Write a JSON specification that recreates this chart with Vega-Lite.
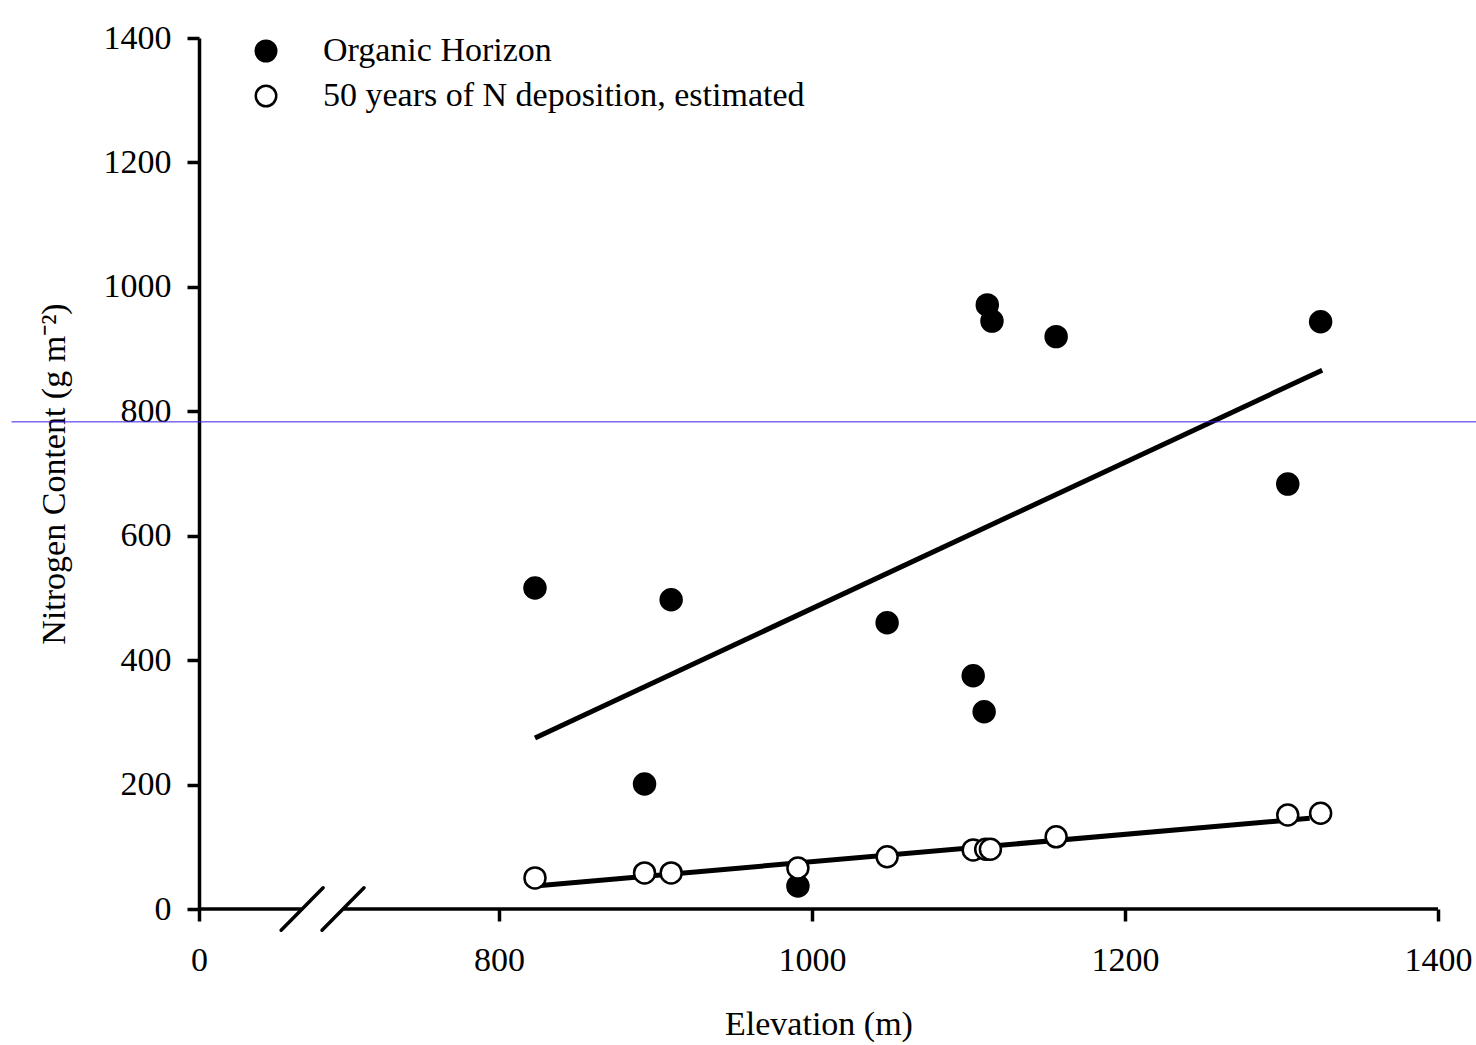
{
  "$schema": "https://vega.github.io/schema/vega-lite/v6.json",
  "width": 1239,
  "height": 871,
  "autosize": {"type": "none"},
  "padding": {"left": 199, "top": 38, "right": 38, "bottom": 136},
  "background": "white",
  "config": {
    "view": {"stroke": null},
    "font": "Liberation Serif",
    "axis": {
      "labelFont": "Liberation Serif",
      "labelFontSize": 34,
      "labelColor": "black",
      "labelFlush": false,
      "labelOverlap": false,
      "titleFont": "Liberation Serif",
      "titleFontSize": 34,
      "titleFontWeight": "normal",
      "titleColor": "black",
      "domainColor": "black",
      "domainWidth": 3.5,
      "tickColor": "black",
      "tickWidth": 3.5,
      "tickSize": 12,
      "grid": false
    }
  },
  "datasets": {
    "pts": [
      {"elev": 823, "n": 516, "series": "Organic Horizon"},
      {"elev": 893, "n": 201, "series": "Organic Horizon"},
      {"elev": 910, "n": 497, "series": "Organic Horizon"},
      {"elev": 991, "n": 37, "series": "Organic Horizon"},
      {"elev": 1048, "n": 460, "series": "Organic Horizon"},
      {"elev": 1103, "n": 375, "series": "Organic Horizon"},
      {"elev": 1110, "n": 317, "series": "Organic Horizon"},
      {"elev": 1112, "n": 971, "series": "Organic Horizon"},
      {"elev": 1115, "n": 945, "series": "Organic Horizon"},
      {"elev": 1156, "n": 920, "series": "Organic Horizon"},
      {"elev": 1304, "n": 683, "series": "Organic Horizon"},
      {"elev": 1325, "n": 944, "series": "Organic Horizon"},
      {"elev": 823, "n": 50, "series": "50 years of N deposition, estimated"},
      {"elev": 893, "n": 58, "series": "50 years of N deposition, estimated"},
      {"elev": 910, "n": 58, "series": "50 years of N deposition, estimated"},
      {"elev": 991, "n": 66, "series": "50 years of N deposition, estimated"},
      {"elev": 1048, "n": 84, "series": "50 years of N deposition, estimated"},
      {"elev": 1103, "n": 95, "series": "50 years of N deposition, estimated"},
      {"elev": 1111, "n": 96, "series": "50 years of N deposition, estimated"},
      {"elev": 1114, "n": 96, "series": "50 years of N deposition, estimated"},
      {"elev": 1156, "n": 116, "series": "50 years of N deposition, estimated"},
      {"elev": 1304, "n": 151, "series": "50 years of N deposition, estimated"},
      {"elev": 1325, "n": 154, "series": "50 years of N deposition, estimated"}
    ],
    "fits": [
      {"elev": 823, "n": 275, "series": "Organic Horizon"},
      {"elev": 1326, "n": 866, "series": "Organic Horizon"},
      {"elev": 823, "n": 37, "series": "50 years of N deposition, estimated"},
      {"elev": 1318, "n": 146, "series": "50 years of N deposition, estimated"}
    ],
    "axisline": [
      {"x1": 0, "x2": 273},
      {"x1": 384, "x2": 1400}
    ],
    "breaks": [
      {"x1": 219, "y1": -34, "x2": 331, "y2": 34},
      {"x1": 328, "y1": -34, "x2": 440, "y2": 34}
    ],
    "stray": [
      {"x1": -500, "x2": 1440, "y": 783}
    ]
  },
  "encoding": {
    "x": {
      "type": "quantitative",
      "scale": {"domain": [0, 800, 1400], "range": [0, 300, 1239], "nice": false, "zero": false}
    },
    "y": {
      "type": "quantitative",
      "scale": {"domain": [0, 1400], "nice": false}
    }
  },
  "layer": [
    {
      "data": {"name": "axisline"},
      "mark": {"type": "rule", "color": "black", "strokeWidth": 3.5},
      "encoding": {
        "x": {"field": "x1", "type": "quantitative", "axis": {
          "title": "Elevation (m)",
          "values": [0, 800, 1000, 1200, 1400],
          "domain": false,
          "labelPadding": 22,
          "titlePadding": 30,
          "format": "d"
        }},
        "x2": {"field": "x2"},
        "y": {"datum": 0, "type": "quantitative", "axis": {
          "title": "Nitrogen Content (g m⁻²)",
          "values": [0, 200, 400, 600, 800, 1000, 1200, 1400],
          "labelPadding": 16,
          "titlePadding": 32,
          "format": "d"
        }}
      }
    },
    {
      "data": {"name": "breaks"},
      "mark": {"type": "rule", "color": "black", "strokeWidth": 3.5, "strokeCap": "round"},
      "encoding": {
        "x": {"field": "x1", "type": "quantitative"},
        "x2": {"field": "x2"},
        "y": {"field": "y1", "type": "quantitative"},
        "y2": {"field": "y2"}
      }
    },
    {
      "data": {"name": "fits"},
      "mark": {"type": "line", "color": "black", "strokeWidth": 5},
      "encoding": {
        "x": {"field": "elev", "type": "quantitative"},
        "y": {"field": "n", "type": "quantitative"},
        "detail": {"field": "series"}
      }
    },
    {
      "data": {"name": "pts"},
      "mark": {"type": "point", "shape": "circle", "filled": true, "size": 440, "stroke": "black", "strokeWidth": 2.5, "opacity": 1},
      "encoding": {
        "x": {"field": "elev", "type": "quantitative"},
        "y": {"field": "n", "type": "quantitative"},
        "fill": {
          "field": "series",
          "type": "nominal",
          "scale": {"domain": ["Organic Horizon", "50 years of N deposition, estimated"], "range": ["black", "white"]},
          "legend": {
            "orient": "none",
            "legendX": 50,
            "legendY": -4,
            "title": null,
            "padding": 0,
            "labelFont": "Liberation Serif",
            "labelFontSize": 34,
            "labelColor": "black",
            "labelLimit": 0,
            "labelOffset": 40,
            "symbolType": "circle",
            "symbolSize": 420,
            "symbolStrokeColor": "black",
            "symbolStrokeWidth": 2.5,
            "symbolOpacity": 1,
            "rowPadding": 11
          }
        }
      }
    },
    {
      "data": {"name": "stray"},
      "mark": {"type": "rule", "color": "#3a1ee0", "strokeWidth": 1},
      "encoding": {
        "x": {"field": "x1", "type": "quantitative"},
        "x2": {"field": "x2"},
        "y": {"field": "y", "type": "quantitative"}
      }
    }
  ]
}
